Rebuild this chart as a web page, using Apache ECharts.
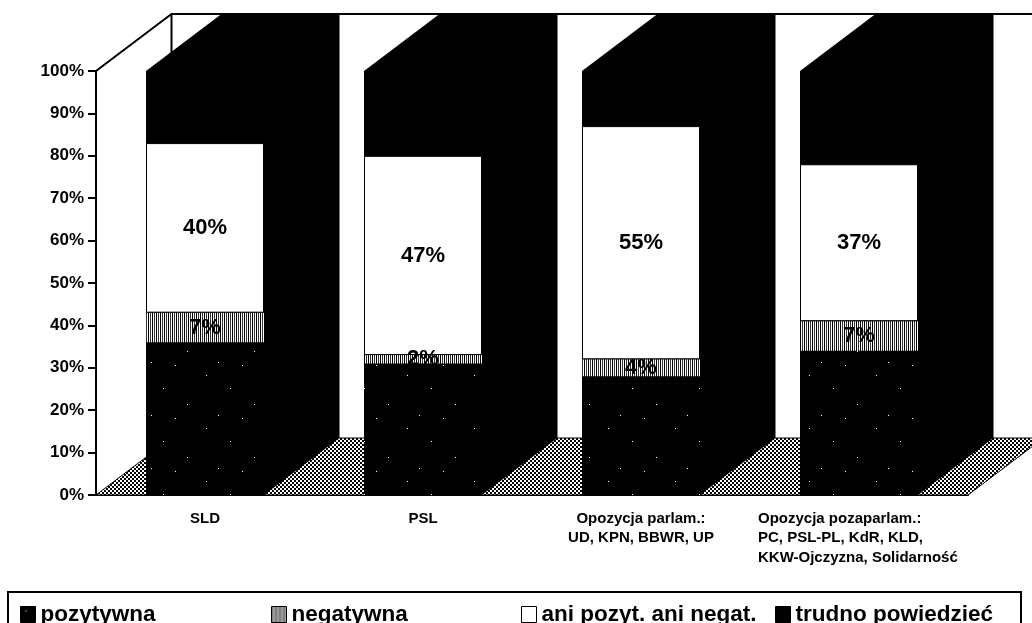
<!DOCTYPE html>
<html>
<head>
<meta charset="utf-8">
<style>
  html, body { margin: 0; padding: 0; background: #fff; }
  #chart { width: 1032px; height: 623px; }
</style>
<script src="https://cdn.jsdelivr.net/npm/echarts@6/dist/echarts.min.js"></script>
</head>
<body>
<div id="chart"></div>
<script>
const categories = [
  'SLD',
  'PSL',
  'Opozycja parlam.:\nUD, KPN, BBWR, UP',
  'Opozycja pozaparlam.:\nPC, PSL-PL, KdR, KLD,\nKKW-Ojczyzna, Solidarność'
]
const pozytywna = [36, 31, 28, 34]
const negatywna = [7, 2, 4, 7]
const aniAni = [40, 47, 55, 37]
const trudno = [17, 20, 13, 22]
const yTicks = [0, 10, 20, 30, 40, 50, 60, 70, 80, 90, 100]

const FONT = '"Liberation Sans", Arial, sans-serif'
const BAR_W = 118
const DEPTH_X = 75.5
const DEPTH_Y = -57

// small tiled fills for the scanned-looking hatches
function pattern(w, h, draw) {
  const c = document.createElement('canvas')
  c.width = w
  c.height = h
  const ctx = c.getContext('2d')
  draw(ctx)
  return { image: c, repeat: 'repeat' }
}
const floorFill = pattern(4, 4, ctx => {
  ctx.fillStyle = '#000'
  ctx.fillRect(0, 0, 4, 4)
  ctx.fillStyle = '#fff'
  ctx.fillRect(0, 0, 2, 2)
  ctx.fillRect(2, 2, 2, 2)
})
const stripeFill = pattern(4, 4, ctx => {
  ctx.fillStyle = '#fff'
  ctx.fillRect(0, 0, 4, 4)
  ctx.fillStyle = '#000'
  ctx.fillRect(0, 0, 1, 4)
  ctx.fillStyle = '#333'
  ctx.fillRect(2, 0, 1, 4)
})
const speckFill = pattern(67, 53, ctx => {
  ctx.fillStyle = '#000'
  ctx.fillRect(0, 0, 67, 53)
  ctx.fillStyle = '#fff'
  ctx.fillRect(5, 4, 1, 1)
  ctx.fillRect(29, 17, 1, 1)
  ctx.fillRect(53, 33, 1, 1)
  ctx.fillRect(17, 44, 1, 1)
  ctx.fillRect(41, 47, 1, 1)
})

function renderRoom(params, api) {
  const g = params.coordSys
  const x0 = g.x, x1 = g.x + g.width
  const yTop = g.y, yBot = g.y + g.height
  const line = { stroke: '#000', lineWidth: 2, fill: null }
  return {
    type: 'group',
    children: [
      { type: 'polygon', shape: { points: [[x0, yBot], [x0 + DEPTH_X, yBot + DEPTH_Y], [x1 + DEPTH_X, yBot + DEPTH_Y], [x1, yBot]] },
        style: { fill: floorFill, stroke: '#000', lineWidth: 1 } },
      { type: 'polyline', shape: { points: [[x0, yTop], [x0 + DEPTH_X, yTop + DEPTH_Y], [x1 + DEPTH_X, yTop + DEPTH_Y]] }, style: line },
      { type: 'line', shape: { x1: x0 + DEPTH_X, y1: yTop + DEPTH_Y, x2: x0 + DEPTH_X, y2: yBot + DEPTH_Y }, style: line }
    ]
  }
}

// black side and top of each column, behind the stacked front faces
function renderSide(params, api) {
  const c = api.coord([api.value(0), 0])
  const t = api.coord([api.value(0), 100])
  const l = c[0] - BAR_W / 2, r = c[0] + BAR_W / 2
  return {
    type: 'polygon',
    shape: { points: [
      [l, t[1]], [l + DEPTH_X, t[1] + DEPTH_Y], [r + DEPTH_X, t[1] + DEPTH_Y],
      [r + DEPTH_X, c[1] + DEPTH_Y], [r, c[1]], [l, c[1]]
    ] },
    style: { fill: '#000' }
  }
}

const percentLabel = (size) => ({
  show: true,
  position: 'inside',
  formatter: '{c}%',
  color: '#000',
  fontFamily: FONT,
  fontWeight: 'bold',
  fontSize: size
})

const legendBase = {
  top: 603,
  padding: 0,
  itemWidth: 15,
  itemHeight: 16,
  icon: 'rect',
  selectedMode: false,
  itemStyle: { borderColor: '#000', borderWidth: 1 },
  textStyle: { color: '#000', fontFamily: FONT, fontWeight: 'bold', fontSize: 22.5 }
}

const chart = echarts.init(document.getElementById('chart'), null, { renderer: 'canvas' })
chart.setOption({
  animation: false,
  backgroundColor: '#fff',
  grid: { left: 96, right: 64, top: 71, bottom: 128 },
  legend: [
    Object.assign({}, legendBase, { left: 20, data: ['pozytywna'] }),
    Object.assign({}, legendBase, { left: 271, data: ['negatywna'] }),
    Object.assign({}, legendBase, { left: 521, data: ['ani pozyt. ani negat.'] }),
    Object.assign({}, legendBase, { left: 775, data: ['trudno powiedzieć'] })
  ],
  xAxis: {
    type: 'category',
    data: categories,
    axisLine: { lineStyle: { color: '#000', width: 2 } },
    axisTick: { length: 11, lineStyle: { color: '#000', width: 2 } },
    axisLabel: {
      interval: 0,
      margin: 14,
      color: '#000',
      fontFamily: FONT,
      fontWeight: 'bold',
      fontSize: 15,
      lineHeight: 19.5,
      formatter: (v, i) => i === 3 ? v.split('\n').map(s => `{left|${s}}`).join('\n') : v,
      rich: { left: { width: 202, align: 'left', fontFamily: FONT, fontWeight: 'bold', fontSize: 15, lineHeight: 19.5, color: '#000' } }
    }
  },
  yAxis: {
    type: 'value',
    min: yTicks[0],
    max: yTicks[yTicks.length - 1],
    interval: yTicks[1] - yTicks[0],
    splitLine: { show: false },
    axisLine: { show: true, lineStyle: { color: '#000', width: 2 } },
    axisTick: { show: true, length: 8, lineStyle: { color: '#000', width: 2 } },
    axisLabel: {
      margin: 12,
      color: '#000',
      fontFamily: FONT,
      fontWeight: 'bold',
      fontSize: 17,
      formatter: '{value}%'
    }
  },
  graphic: [{
    type: 'rect',
    shape: { x: 8, y: 592, width: 1013, height: 40 },
    style: { fill: 'none', stroke: '#000', lineWidth: 2 }
  }],
  series: [
    { type: 'custom', renderItem: renderRoom, data: [0], z: 1, silent: true, clip: false },
    { type: 'custom', renderItem: renderSide, data: categories.map((c, i) => [i]), z: 2, silent: true, clip: false, encode: { x: 0 } },
    { name: 'pozytywna', type: 'bar', stack: 'a', barWidth: BAR_W, z: 3, data: pozytywna,
      itemStyle: { color: speckFill } },
    { name: 'negatywna', type: 'bar', stack: 'a', barWidth: BAR_W, z: 3, data: negatywna,
      itemStyle: { color: stripeFill }, label: percentLabel(22) },
    { name: 'ani pozyt. ani negat.', type: 'bar', stack: 'a', barWidth: BAR_W, z: 3, data: aniAni,
      itemStyle: { color: '#fff', borderColor: '#000', borderWidth: 1 }, label: percentLabel(22) },
    { name: 'trudno powiedzieć', type: 'bar', stack: 'a', barWidth: BAR_W, z: 3, data: trudno,
      itemStyle: { color: '#000' } }
  ]
})
</script>
</body>
</html>
